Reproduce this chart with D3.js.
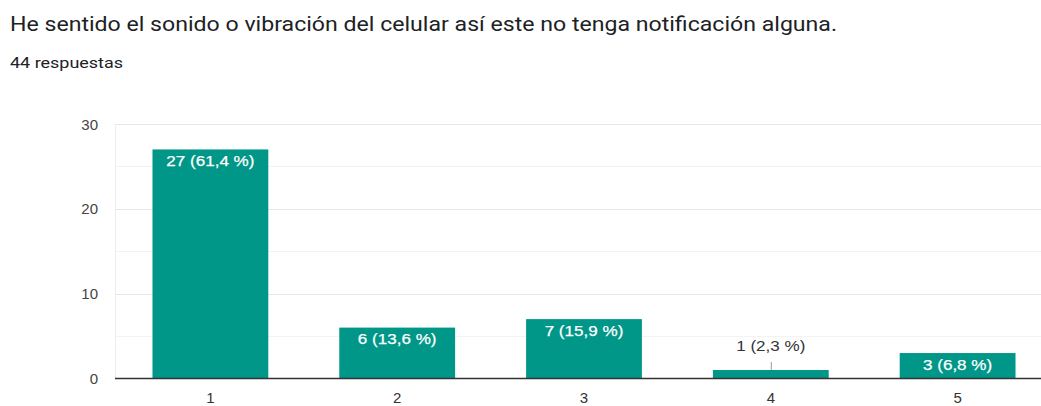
<!DOCTYPE html>
<html>
<head>
<meta charset="utf-8">
<script src="https://cdn.jsdelivr.net/npm/d3@7"></script>
<style>
  body { margin: 0; background: #fff; }
  svg { display: block; font-family: "Liberation Sans", Arial, sans-serif; }
</style>
</head>
<body>
<div id="chart"></div>
<script>
(function(){

    const categories = ['1', '2', '3', '4', '5'];
    const counts = [27, 6, 7, 1, 3];
    const labels = ['27 (61,4 %)', '6 (13,6 %)', '7 (15,9 %)', '1 (2,3 %)', '3 (6,8 %)'];
    const majorTicks = [0, 10, 20, 30];
    const minorTicks = [5, 15, 25];

    const width = 1041;
    const height = 406;
    const teal = '#009688';

    const svg = d3.select('#chart')
        .append('svg')
        .attr('width', width)
        .attr('height', height);

    // widen glyphs a bit, the source font is broader than what we have
    function stretch(sel, k){
        sel.each(function(){
            const w = this.getComputedTextLength();
            d3.select(this)
                .attr('textLength', w * k)
                .attr('lengthAdjust', 'spacingAndGlyphs');
        });
    }

    // header
    svg.append('text')
        .attr('x', 10)
        .attr('y', 31)
        .attr('font-family', 'Roboto, sans-serif')
        .attr('font-size', 20)
        .attr('textLength', 827)
        .attr('lengthAdjust', 'spacingAndGlyphs')
        .attr('fill', '#202124')
        .text('He sentido el sonido o vibración del celular así este no tenga notificación alguna.');

    svg.append('text')
        .attr('x', 10)
        .attr('y', 68)
        .attr('font-family', 'Roboto, sans-serif')
        .attr('font-size', 15)
        .attr('textLength', 113)
        .attr('lengthAdjust', 'spacingAndGlyphs')
        .attr('fill', '#202124')
        .text('44 respuestas');

    const x = d3.scaleBand()
        .domain(categories)
        .range([117, 1051])
        .paddingInner(0.38)
        .paddingOuter(0.19);

    const y = d3.scaleLinear()
        .domain([0, 30])
        .range([378.5, 124]);

    const plotLeft = 115;
    const plotRight = 1041;

    // grid
    svg.selectAll('.minor')
        .data(minorTicks)
        .enter().append('line')
        .attr('x1', plotLeft).attr('x2', plotRight)
        .attr('y1', d => Math.round(y(d)) + 0.5)
        .attr('y2', d => Math.round(y(d)) + 0.5)
        .attr('stroke', '#f3f3f3');

    svg.selectAll('.major')
        .data(majorTicks.filter(d => d > 0))
        .enter().append('line')
        .attr('x1', plotLeft).attr('x2', plotRight)
        .attr('y1', d => Math.round(y(d)) + 0.5)
        .attr('y2', d => Math.round(y(d)) + 0.5)
        .attr('stroke', '#e6e6e6');

    svg.append('line')
        .attr('x1', plotLeft + 0.5).attr('x2', plotLeft + 0.5)
        .attr('y1', y(30)).attr('y2', y(0))
        .attr('stroke', '#ececec');

    // y tick labels
    svg.selectAll('.ylab')
        .data(majorTicks)
        .enter().append('text')
        .attr('x', 98)
        .attr('y', d => y(d) + 5.5)
        .attr('text-anchor', 'end')
        .attr('font-size', 15)
        .attr('fill', '#444')
        .text(d => d);

    // bars
    svg.selectAll('.bar')
        .data(counts)
        .enter().append('rect')
        .attr('x', (d, i) => x(categories[i]))
        .attr('width', x.bandwidth())
        .attr('y', d => y(d))
        .attr('height', d => y(0) - y(d))
        .attr('fill', teal);

    // baseline
    svg.append('line')
        .attr('x1', plotLeft).attr('x2', plotRight)
        .attr('y1', 378.5).attr('y2', 378.5)
        .attr('stroke', '#333')
        .attr('stroke-width', 1.3);

    // value labels
    counts.forEach(function(d, i){
        const cx = x(categories[i]) + x.bandwidth() / 2;
        const inside = (y(0) - y(d)) > 20;
        let t;
        if (inside) {
            t = svg.append('text')
                .attr('x', cx)
                .attr('y', y(d) + 16.5)
                .attr('text-anchor', 'middle')
                .attr('font-size', 15.5)
                .attr('fill', '#fff')
                .attr('stroke', '#fff')
                .attr('stroke-width', 0.25)
                .text(labels[i]);
        } else {
            svg.append('line')
                .attr('x1', cx + 0.5).attr('x2', cx + 0.5)
                .attr('y1', y(d) - 8).attr('y2', y(d))
                .attr('stroke', '#999');
            t = svg.append('text')
                .attr('x', cx)
                .attr('y', y(d) - 19)
                .attr('text-anchor', 'middle')
                .attr('font-size', 15.5)
                .attr('fill', '#333')
                .text(labels[i]);
        }
        stretch(t, 1.1);
    });

    // x tick labels
    svg.selectAll('.xlab')
        .data(categories)
        .enter().append('text')
        .attr('x', d => x(d) + x.bandwidth() / 2)
        .attr('y', 403)
        .attr('text-anchor', 'middle')
        .attr('font-size', 15)
        .attr('fill', '#333')
        .text(d => d);

}());
</script>
</body>
</html>
